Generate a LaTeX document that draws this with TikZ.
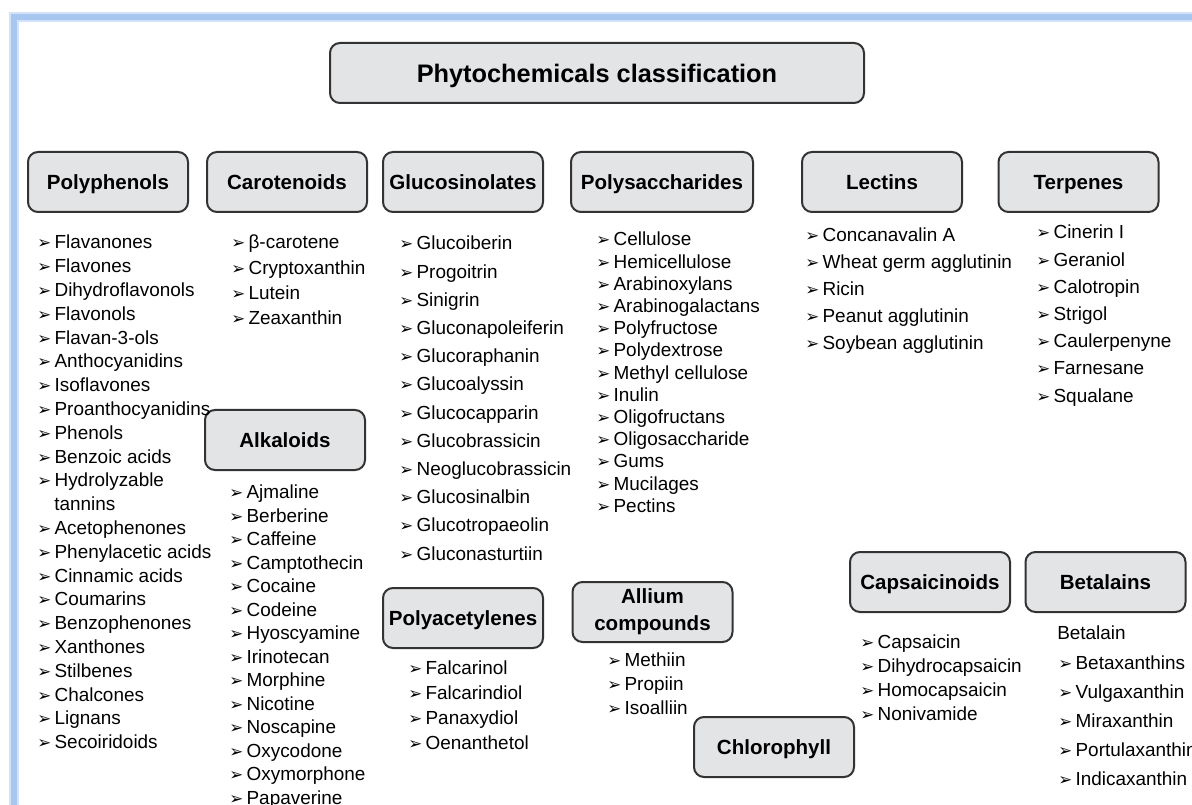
\documentclass[tikz,border=0pt]{standalone}
\usepackage{fontspec}
\setmainfont{Liberation Sans}
\newfontfamily\symfont{DejaVu Sans}
\definecolor{boxgray}{RGB}{227,228,230}
\definecolor{frameblue}{RGB}{168,199,240}
\definecolor{frameglow}{RGB}{210,226,248}
\newcommand\itemfont{\fontsize{14.2pt}{17pt}\selectfont}
\newcommand\headfont{\bfseries\fontsize{15.4pt}{20pt}\selectfont}
\newcommand\bul{\makebox[13pt][l]{\symfont\fontsize{12.5pt}{12pt}\selectfont ➢}}
\tikzset{
  classbox/.style={draw=black!80, line width=1.5pt, rounded corners=7.5pt, fill=boxgray,
    minimum width=120pt, minimum height=45pt, inner sep=2pt, align=center, font=\headfont,
    text height=11pt, text depth=0pt},
  listitem/.style={anchor=west, inner sep=0pt, text height=10.3pt, text depth=0pt, font=\itemfont},
}
\begin{document}
\begin{tikzpicture}[x=0.75pt, y=-0.75pt]
  % Page and frame
  \clip (0,0) rectangle (1192,805);
  \fill[white] (0,0) rectangle (1192,805);
  \draw[frameglow, line width=7pt] (14,805) -- (14,17) -- (1192,17);
  \draw[frameblue, line width=4.2pt] (14,805) -- (14,17) -- (1192,17);
  % Title
  \node[classbox, minimum width=400.5pt, text height=13.6pt,
    font=\bfseries\fontsize{19pt}{22pt}\selectfont] (title) at (597,73) {Phytochemicals classification};
  % Class boxes
  \node[classbox] (polyphenols) at (108,182) {Polyphenols};
  \node[classbox] (carotenoids) at (287,182) {Carotenoids};
  \node[classbox] (glucosinolates) at (463,182) {Glucosinolates};
  \node[classbox, minimum width=136.5pt] (polysaccharides) at (662,182) {Polysaccharides};
  \node[classbox] (lectins) at (882,182) {Lectins};
  \node[classbox] (terpenes) at (1078.5,182) {Terpenes};
  \node[classbox] (alkaloids) at (285,440) {Alkaloids};
  \node[classbox] (polyacetylenes) at (463,618) {Polyacetylenes};
  \node[classbox, text height=, text depth=] (allium) at (652.5,612) {Allium\\compounds};
  \node[classbox] (chlorophyll) at (774,747) {Chlorophyll};
  \node[classbox] (capsaicinoids) at (930,582) {Capsaicinoids};
  \node[classbox] (betalains) at (1105.5,582) {Betalains};
  % Polyphenols list
  \foreach \t [count=\i] in {Flavanones, Flavones, Dihydroflavonols, Flavonols, Flavan-3-ols,
      Anthocyanidins, Isoflavones, Proanthocyanidins, Phenols, Benzoic acids, Hydrolyzable}
    \node[listitem] (polyph-\i) at (37,{242+(\i-1)*23.8}) {\bul\t};
  \node[listitem] (polyph-12) at (54,{242+11*23.8}) {tannins};
  \foreach \t [count=\i from 13] in {Acetophenones, Phenylacetic acids, Cinnamic acids, Coumarins,
      Benzophenones, Xanthones, Stilbenes, Chalcones, Lignans, Secoiridoids}
    \node[listitem] (polyph-\i) at (37,{242+(\i-1)*23.8}) {\bul\t};
  % Carotenoids list
  \foreach \t [count=\i] in {β-carotene, Cryptoxanthin, Lutein, Zeaxanthin}
    \node[listitem] (carot-\i) at (231,{242+(\i-1)*25.3}) {\bul\t};
  % Alkaloids list
  \foreach \t [count=\i] in {Ajmaline, Berberine, Caffeine, Camptothecin, Cocaine, Codeine, Hyoscyamine,
      Irinotecan, Morphine, Nicotine, Noscapine, Oxycodone, Oxymorphone, Papaverine}
    \node[listitem] (alkal-\i) at (229,{492+(\i-1)*23.5}) {\bul\t};
  % Glucosinolates list
  \foreach \t [count=\i] in {Glucoiberin, Progoitrin, Sinigrin, Gluconapoleiferin, Glucoraphanin,
      Glucoalyssin, Glucocapparin, Glucobrassicin, Neoglucobrassicin, Glucosinalbin,
      Glucotropaeolin, Gluconasturtiin}
    \node[listitem] (gluco-\i) at (399,{243+(\i-1)*28.2}) {\bul\t};
  % Polysaccharides list
  \foreach \t [count=\i] in {Cellulose, Hemicellulose, Arabinoxylans, Arabinogalactans, Polyfructose,
      Polydextrose, Methyl cellulose, Inulin, Oligofructans, Oligosaccharide, Gums, Mucilages, Pectins}
    \node[listitem] (polys-\i) at (596,{239+(\i-1)*22.2}) {\bul\t};
  % Lectins list
  \foreach \t [count=\i] in {Concanavalin A, Wheat germ agglutinin, Ricin, Peanut agglutinin,
      Soybean agglutinin}
    \node[listitem] (lect-\i) at (805,{235+(\i-1)*27}) {\bul\t};
  % Terpenes list
  \foreach \t [count=\i] in {Cinerin I, Geraniol, Calotropin, Strigol, Caulerpenyne, Farnesane, Squalane}
    \node[listitem] (terp-\i) at (1036,{232+(\i-1)*27.2}) {\bul\t};
  % Polyacetylenes list
  \foreach \t [count=\i] in {Falcarinol, Falcarindiol, Panaxydiol, Oenanthetol}
    \node[listitem] (polya-\i) at (408,{668+(\i-1)*25}) {\bul\t};
  % Allium compounds list
  \foreach \t [count=\i] in {Methiin, Propiin, Isoalliin}
    \node[listitem] (allium-\i) at (607,{660+(\i-1)*24}) {\bul\t};
  % Capsaicinoids list
  \foreach \t [count=\i] in {Capsaicin, Dihydrocapsaicin, Homocapsaicin, Nonivamide}
    \node[listitem] (capsa-\i) at (860,{642+(\i-1)*24}) {\bul\t};
  % Betalains list
  \node[listitem] (betal-0) at (1057,633) {Betalain};
  \foreach \t [count=\i] in {Betaxanthins, Vulgaxanthin, Miraxanthin, Portulaxanthin, Indicaxanthin}
    \node[listitem] (betal-\i) at (1058,{663+(\i-1)*28.8}) {\bul\t};
\end{tikzpicture}
\end{document}
